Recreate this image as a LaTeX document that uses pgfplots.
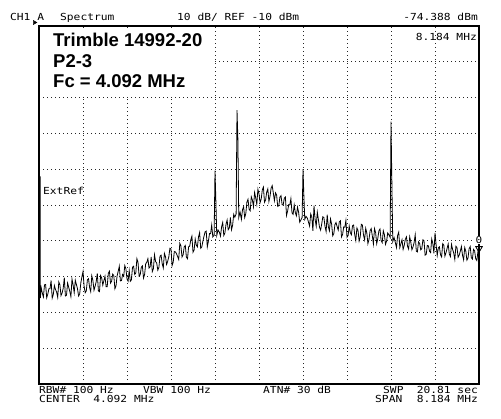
\documentclass[border=0pt]{standalone}
\usepackage{fontspec}
\usepackage{pgfplots}
\pgfplotsset{compat=1.18}
\setmainfont{Liberation Sans}
\newfontfamily\hp[FakeStretch=1.16]{DejaVu Sans Mono}
\newcommand{\hpf}{\hp\fontsize{9.7bp}{9.7bp}\selectfont}
% trace: bin index n (0..200, 1 bin = 40.92 kHz, span 8.184 MHz), level in dBm
\pgfplotstableread{
n d
0.55 -52.0
0.6 -86.0
1 -83.1
1.5 -84.6
2 -85.7
2.5 -82.3
3 -82.2
3.5 -85.9
4 -84.9
4.5 -83.4
5 -83.4
5.5 -81.1
6 -86.0
6.5 -85.0
7 -82.5
7.5 -83.6
8 -84.3
8.5 -85.8
9 -81.5
9.5 -82.3
10 -85.3
10.5 -84.6
11 -83.3
11.5 -80.3
12 -85.4
12.5 -85.2
13 -81.8
13.5 -83.0
14 -84.1
14.5 -85.6
15 -80.7
15.5 -82.3
16 -84.5
16.5 -81.0
17 -82.2
17.5 -83.4
18 -85.4
18.5 -84.8
19 -81.8
19.5 -80.1
20 -78.6
20.5 -82.7
21 -84.5
21.5 -84.0
22 -80.9
22.5 -80.6
23 -83.0
23.5 -84.2
24 -79.8
24.5 -81.1
25 -83.8
25.5 -82.7
26 -81.4
26.5 -79.1
27 -84.0
27.5 -84.2
28 -79.7
28.5 -80.4
29 -82.4
29.5 -81.1
30 -79.9
30.5 -82.8
31 -82.8
31.5 -79.1
32 -78.5
32.5 -81.8
33 -81.3
33.5 -79.3
34 -79.7
34.5 -83.4
35 -82.6
35.5 -79.8
36 -78.5
36.5 -77.1
37 -81.2
37.5 -81.1
38 -79.4
38.5 -79.9
39 -76.9
39.5 -77.8
40 -80.7
40.5 -81.3
41 -78.3
41.5 -81.3
42 -80.9
42.5 -77.4
43 -77.1
43.5 -79.4
44 -79.0
44.5 -75.0
45 -76.0
45.5 -79.8
46 -79.5
46.5 -77.4
47 -77.0
47.5 -80.4
48 -79.4
48.5 -76.4
49 -76.0
49.5 -75.0
50 -77.6
50.5 -77.3
51 -74.5
51.5 -78.6
52 -77.8
52.5 -73.9
53 -75.8
53.5 -76.2
54 -78.2
54.5 -77.4
55 -74.3
55.5 -74.0
56 -76.4
56.5 -77.6
57 -73.5
57.5 -74.4
58 -76.6
58.5 -75.7
59 -74.5
59.5 -72.1
60 -72.3
60.5 -76.9
61 -76.0
61.5 -73.0
62 -73.1
62.5 -73.6
63 -74.4
63.5 -75.2
64 -70.7
64.5 -71.4
65 -74.5
65.5 -73.9
66 -71.7
66.5 -71.3
67 -74.6
67.5 -75.0
68 -71.7
68.5 -71.5
69 -69.7
69.5 -68.7
70 -73.2
70.5 -72.6
71 -69.5
71.5 -71.2
72 -71.7
72.5 -68.9
73 -67.7
73.5 -72.1
74 -71.7
74.5 -70.1
75 -68.7
75.5 -67.5
76 -67.3
76.5 -71.7
77 -70.1
77.5 -68.0
78 -68.0
78.5 -65.6
79 -68.9
79.6 -68.5
80 -50.4
80.4 -59.0
80.8 -68.5
81.4 -67.0
82 -67.6
82.5 -68.7
83 -66.1
83.5 -64.9
84 -68.5
84.5 -67.8
85 -65.4
85.5 -64.2
86 -66.9
86.5 -66.4
87 -63.5
87.5 -66.9
88 -65.7
88.5 -62.6
89 -63.4
89.6 -62.5
90 -33.5
90.4 -41.5
90.8 -63.5
91.4 -62.0
92 -64.0
92.5 -61.3
93 -60.5
93.5 -63.5
94 -62.4
94.5 -59.2
95 -58.4
95.5 -61.2
96 -61.6
96.5 -57.7
97 -58.6
97.5 -60.5
98 -56.5
98.5 -58.0
99 -59.8
99.5 -55.6
100 -56.9
100.5 -59.3
101 -58.3
101.5 -55.8
102 -55.0
102.5 -59.2
103 -58.6
103.5 -56.4
104 -55.5
104.5 -59.0
105 -57.6
105.5 -55.3
106 -54.6
106.5 -56.6
107 -58.8
107.5 -56.6
108 -57.2
108.5 -60.4
109 -60.2
109.5 -57.8
110 -57.4
110.5 -59.9
111 -60.0
111.5 -58.1
112 -57.8
112.5 -62.9
113 -61.7
113.5 -59.9
114 -60.0
114.5 -58.2
115 -62.2
115.5 -62.6
116 -60.0
116.5 -62.1
117 -63.0
117.5 -60.6
118 -62.0
118.5 -64.8
119 -64.2
119.6 -63.5
120 -50.0
120.4 -57.5
120.8 -64.0
121.4 -63.2
122 -63.7
122.5 -64.8
123 -65.9
123.5 -62.5
124 -63.3
124.5 -67.2
125 -60.2
125.5 -64.0
126 -65.9
126.5 -62.0
127 -64.1
127.5 -66.2
128 -67.0
128.5 -65.3
129 -63.3
129.5 -63.5
130 -66.0
130.5 -67.4
131 -62.7
131.5 -66.0
132 -67.2
132.5 -63.9
133 -65.3
133.5 -68.6
134 -68.0
134.5 -65.5
135 -64.9
135.5 -66.0
136 -67.0
136.5 -64.7
137 -64.4
137.5 -68.9
138 -68.2
138.5 -66.1
139 -66.2
139.5 -64.3
140 -69.0
140.5 -68.5
141 -65.9
141.5 -67.7
142 -68.3
142.5 -65.8
143 -65.6
143.5 -68.3
144 -69.9
144.5 -66.4
145 -67.1
145.5 -70.1
146 -68.9
146.5 -65.4
147 -65.6
147.5 -68.4
148 -69.7
148.5 -66.5
149 -67.8
149.5 -70.8
150 -69.6
150.5 -67.2
151 -66.6
151.5 -68.6
152 -70.9
152.5 -66.6
153 -67.7
153.5 -70.8
154 -69.3
154.5 -67.2
155 -66.7
155.5 -69.9
156 -70.5
156.5 -67.2
157 -68.3
157.5 -71.0
158 -70.1
158.5 -67.8
159 -68.3
159.6 -69.0
160 -36.7
160.4 -54.0
160.8 -70.2
161.4 -69.1
162 -70.6
162.5 -71.9
163 -68.5
163.5 -67.6
164 -71.9
164.5 -70.8
165 -69.7
165.5 -72.4
166 -71.3
166.5 -69.6
167 -68.9
167.5 -71.5
168 -72.3
168.5 -68.9
169 -70.4
169.5 -72.5
170 -71.7
170.5 -70.5
171 -68.3
171.5 -72.9
172 -73.1
172.5 -70.3
173 -70.7
173.5 -72.5
174 -72.2
174.5 -69.7
175 -70.0
175.5 -74.0
176 -73.8
176.5 -71.3
177 -71.4
177.5 -72.9
178 -73.3
178.5 -69.5
179 -70.7
179.5 -73.5
180 -67.8
180.5 -71.1
181 -74.1
181.5 -72.0
182 -71.7
182.5 -73.9
183 -74.5
183.5 -70.8
184 -71.2
184.5 -74.3
185 -73.3
185.5 -72.1
186 -70.9
186.5 -73.7
187 -74.4
187.5 -71.0
188 -72.4
188.5 -73.4
189 -75.2
189.5 -71.5
190 -71.9
190.5 -74.6
191 -74.0
191.5 -72.9
192 -71.6
192.5 -74.0
193 -75.3
193.5 -71.9
194 -72.9
194.5 -75.4
195 -74.8
195.5 -72.2
196 -71.6
196.5 -74.7
197 -75.1
197.5 -72.4
198 -72.8
198.5 -75.0
199 -75.5
199.5 -73.1
200 -74.4
}\trace
\begin{document}
\begin{tikzpicture}[x=1bp,y=1bp]
\useasboundingbox (0,0) rectangle (501,418);
\begin{axis}[
  at={(39bp,34bp)}, anchor=south west,
  scale only axis, width=440bp, height=358bp,
  xmin=0, xmax=200, ymin=-110, ymax=-10,
  xtick distance=20, ytick distance=10,
  xticklabels={}, yticklabels={}, major tick length=0pt,
  grid=major,
  grid style={black!85, line width=0.9bp, dash pattern=on 0.9bp off 3.1bp},
  axis line style={black, line width=1.5bp},
  clip=false,
]
\addplot[black, line width=0.8bp] table[x=n, y=d] {\trace};
\addplot[only marks, mark=triangle, mark size=3.8bp,
  mark options={yshift=8bp, rotate=180, line width=0.8bp, black, fill=white}]
  coordinates {(200,-74.388)};
\addplot[only marks, mark=triangle*, mark size=2.4bp,
  mark options={xshift=-4.5bp, yshift=3.5bp, rotate=-90, black}]
  coordinates {(0,-10)};
\node[font=\hp\fontsize{9.5bp}{9.5bp}\selectfont, inner sep=0.3pt, fill=white] at (axis cs:200,-74.388) [yshift=16.5bp] {0};
\end{axis}
\fill[white] (41,322) rectangle (214,390.5);
% header
\node[anchor=base west, inner sep=0pt, font=\hpf] at (10,397.3) {CH1 A};
\node[anchor=base west, inner sep=0pt, font=\hpf] at (60,397.3) {Spectrum};
\node[anchor=base west, inner sep=0pt, font=\hpf] at (177,397.3) {10 dB/ REF -10 dBm};
\node[anchor=base east, inner sep=0pt, font=\hpf] at (478,397.3) {-74.388 dBm};
% footer
\node[anchor=base west, inner sep=0pt, font=\hpf] at (39,24.2) {RBW\# 100 Hz};
\node[anchor=base west, inner sep=0pt, font=\hpf] at (143,24.2) {VBW 100 Hz};
\node[anchor=base west, inner sep=0pt, font=\hpf] at (263,24.2) {ATN\# 30 dB};
\node[anchor=base west, inner sep=0pt, font=\hpf] at (383,24.2) {SWP};
\node[anchor=base east, inner sep=0pt, font=\hpf] at (478,24.2) {20.81 sec};
\node[anchor=base west, inner sep=0pt, font=\hpf] at (39,16) {CENTER\ \ 4.092 MHz};
\node[anchor=base west, inner sep=0pt, font=\hpf] at (375,16) {SPAN};
\node[anchor=base east, inner sep=0pt, font=\hpf] at (478,16) {8.184 MHz};
% inside
\node[anchor=base east, inner sep=0pt, font=\hpf] at (477,378) {8.184 MHz};
\node[anchor=base west, inner sep=0pt, font=\hpf] at (43,224) {ExtRef};
\node[anchor=base west, inner sep=0pt, font=\bfseries\fontsize{18.5bp}{18.5bp}\selectfont] at (53,371.5) {Trimble 14992-20};
\node[anchor=base west, inner sep=0pt, font=\bfseries\fontsize{18.5bp}{18.5bp}\selectfont] at (53,351) {P2-3};
\node[anchor=base west, inner sep=0pt, font=\bfseries\fontsize{18.5bp}{18.5bp}\selectfont] at (53,330.5) {Fc = 4.092 MHz};
\end{tikzpicture}
\end{document}
